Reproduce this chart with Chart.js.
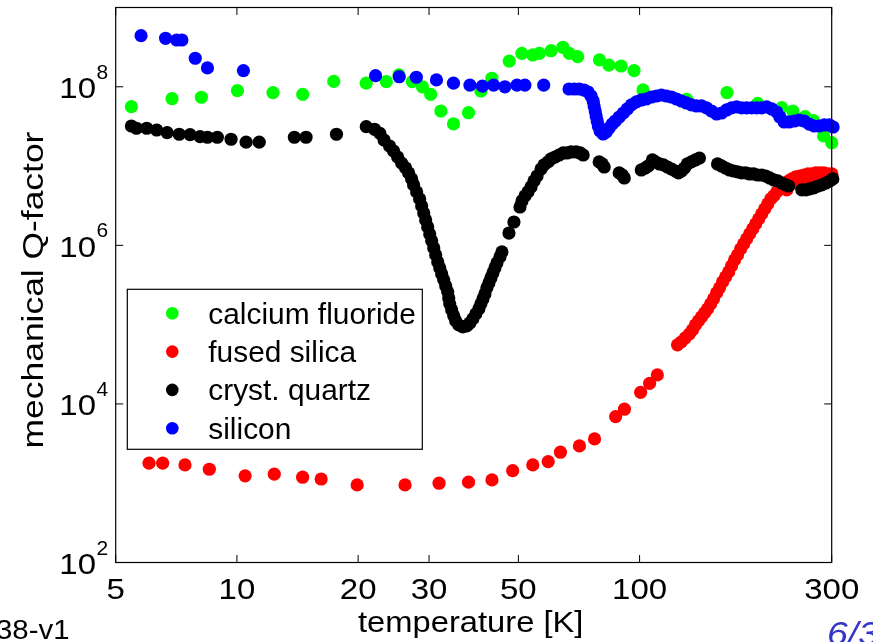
<!DOCTYPE html>
<html>
<head>
<meta charset="utf-8">
<title>mechanical Q-factor</title>
<script src="https://cdn.jsdelivr.net/npm/chart.js@4.4.1/dist/chart.umd.min.js"></script>
<style>
    html, body { margin: 0; padding: 0; background: #fff; }
    #wrap { width: 873px; height: 642px; position: relative; }
</style>
</head>
<body>
<div id="wrap"><canvas id="qChart" width="873" height="642"></canvas></div>
<script>
// tick values
const xTicks = [5, 10, 20, 30, 50, 100, 300];
const yTicks = [1e2, 1e4, 1e6, 1e8];

const seriesNames = ['calcium fluoride', 'fused silica', 'cryst. quartz', 'silicon'];
const seriesColors = ['#00ff00', '#ff0000', '#000000', '#0000ff'];

// calcium fluoride
const caf2T = [5.47, 6.90, 8.16, 10.03, 12.29, 14.57, 17.40, 20.95, 23.5, 25.25, 27.27, 28.88, 30.29, 32.1, 34.5, 37.6,
    40.35, 42.97, 47.46, 51.0, 54.3, 56.4, 60.3, 64.5, 66.9, 70.2, 79.5, 83.9, 90.0, 96.9, 102, 130.9, 164.8, 196.5,
    225.4, 240.2, 257.7, 270.4, 286.3, 300];
const caf2Q = [5.61e7, 7.08e7, 7.38e7, 8.93e7, 8.43e7, 8.04e7, 1.17e8, 1.11e8, 1.16e8, 1.41e8, 1.16e8, 1.0e8, 8.04e7, 4.95e7, 3.4e7, 4.71e7,
    8.85e7, 1.28e8, 2.11e8, 2.64e8, 2.52e8, 2.64e8, 2.85e8, 3.15e8, 2.64e8, 2.4e8, 2.18e8, 1.88e8, 1.83e8, 1.6e8, 9.12e7, 6.95e7, 8.43e7, 6.19e7,
    5.45e7, 4.95e7, 4.2e7, 3.74e7, 2.4e7, 1.97e7];

// fused silica
const silicaT = [6.05, 6.54, 7.43, 8.54, 10.48, 12.38, 14.56, 16.19, 19.89, 26.15, 31.77, 37.6, 43.0, 48.4, 54.3, 59.3,
    63.6, 70.9, 77.3, 87.2, 91.7, 100.6, 105.9, 110.7, 124.2, 127, 129.9, 133.0, 135.3, 137.6, 140.0, 142.5, 145.0,
    147.5, 150.1, 152.6, 155.3, 158.0, 160.7, 163.5, 166.4, 169.2, 172.1, 175.1, 178.2, 181.3, 184.4, 187.6, 190.9,
    194.2, 197.6, 201, 204.5, 208.0, 211.7, 215.4, 219.1, 222.9, 226.7, 230.6, 234.6, 238.8, 244.3, 250.0, 255.8,
    261.8, 267.8, 274.0, 280.4, 286.9, 293.5, 300.3, 232, 245.8, 260.3, 275.6, 291.9];
const silicaQ = [1.79e3, 1.79e3, 1.70e3, 1.50e3, 1.24e3, 1.30e3, 1.19e3, 1.13e3, 952, 952, 1000, 1030, 1100, 1441, 1701, 1873,
    2460, 2953, 3620, 6917, 8575, 1.40e4, 1.82e4, 2.32e4, 5.56e4, 6.07e4, 6.81e4, 7.65e4, 8.59e4, 9.93e4, 1.115e5, 1.253e5, 1.407e5,
    1.579e5, 1.825e5, 2.11e5, 2.51e5, 2.91e5, 3.46e5, 4.0e5, 4.62e5, 5.5e5, 6.55e5, 7.58e5, 9.02e5, 1.043e6, 1.205e6, 1.393e6, 1.611e6,
    1.863e6, 2.154e6, 2.489e6, 2.878e6, 3.327e6, 3.85e6, 4.2e6, 4.72e6, 5.15e6, 5.61e6, 6.12e6, 6.49e6, 6.88e6, 7.29e6, 7.5e6, 7.72e6,
    7.95e6, 7.95e6, 8.19e6, 8.19e6, 8.19e6, 7.95e6, 7.95e6, 5.0e6, 6.12e6, 6.68e6, 7.08e6, 7.29e6];

// crystalline quartz
const quartzT = [5.47, 5.63, 5.97, 6.32, 6.71, 7.19, 7.65, 8.10, 8.45, 8.94, 9.67, 10.54, 11.36, 13.89, 14.85, 17.67,
    20.95, 21.97, 22.65, 23.2, 23.94, 24.5, 25.07, 25.65, 26.24, 26.7, 27.16, 27.47, 27.95, 28.43, 28.76, 29.1, 29.43,
    29.77, 30.12, 30.46, 30.82, 31.17, 31.53, 31.9, 32.25, 32.63, 33.0, 33.38, 33.58, 33.77, 34.16, 34.55, 34.95, 35.56,
    36.38, 37.23, 37.88, 38.53, 39.2, 39.88, 40.35, 40.82, 41.29, 41.76, 42.25, 42.73, 43.22, 43.72, 44.23, 45.0, 45.51,
    47.38, 48.75, 50.46, 51.04, 51.93, 52.83, 53.75, 54.68, 55.63, 56.92, 57.9, 59.25, 60.26, 61.66, 63.09, 64.59, 66.08,
    67.6, 69.57, 71.19, 72.43, 79.36, 80.76, 81.69, 89.0, 90.57, 91.61, 101, 103.3, 105.1, 107.6, 109.5, 112.0, 114.6,
    117.3, 120, 122.8, 124.9, 127, 129.2, 131.4, 134.5, 137.6, 140.8, 156.2, 159.8, 163.5, 167.3, 171.2, 175.1, 179.2,
    183.4, 187.6, 192.0, 196.4, 201, 205.7, 210.4, 215.4, 220.4, 225.4, 230.6, 234.6, 252.9, 258.8, 264.8, 270.9, 277.2,
    283.6, 290.2, 296.9, 302, 307];
const quartzQ = [3.20e7, 3.0e7, 3.0e7, 2.85e7, 2.64e7, 2.52e7, 2.49e7, 2.35e7, 2.31e7, 2.31e7, 2.18e7, 2.0e7, 2.0e7, 2.31e7, 2.31e7, 2.52e7,
    3.14e7, 2.91e7, 2.59e7, 2.13e7, 1.79e7, 1.55e7, 1.30e7, 1.09e7, 9.47e6, 8.19e6, 6.88e6, 5.78e6, 4.72e6, 3.85e6, 3.14e6, 2.56e6, 2.09e6,
    1.71e6, 1.39e6, 1.14e6, 9.28e5, 7.58e5, 6.18e5, 5.19e5, 4.36e5, 3.67e5, 3.08e5, 2.59e5, 2.17e5, 1.83e5, 1.535e5, 1.29e5, 1.115e5, 9.93e4,
    9.37e4, 9.64e4, 1.05e5, 1.18e5, 1.367e5, 1.58e5, 1.83e5, 2.11e5, 2.44e5, 2.91e5, 3.36e5, 3.88e5, 4.49e5, 5.19e5, 6.0e5, 7.15e5, 8.27e5,
    1.43e6, 1.97e6, 3.05e6, 3.63e6, 4.2e6, 4.72e6, 5.45e6, 6.49e6, 7.5e6, 9.19e6, 1.033e7, 1.127e7, 1.229e7, 1.302e7, 1.38e7, 1.463e7, 1.463e7,
    1.506e7, 1.506e7, 1.463e7, 1.38e7, 1.127e7, 1.063e7, 9.74e6, 8.19e6, 7.72e6, 7.08e6, 8.93e6, 9.46e6, 1.003e7, 1.194e7, 1.127e7, 1.063e7, 1.033e7,
    9.74e6, 9.19e6, 8.67e6, 8.19e6, 8.67e6, 9.46e6, 1.063e7, 1.127e7, 1.194e7, 1.265e7, 1.063e7, 1.003e7, 9.46e6, 8.93e6, 8.67e6, 8.43e6, 8.19e6,
    8.19e6, 7.95e6, 7.95e6, 7.72e6, 7.72e6, 7.5e6, 7.08e6, 6.68e6, 6.49e6, 6.12e6, 5.78e6, 5.61e6, 5.0e6, 5.0e6, 5.15e6, 5.3e6, 5.61e6,
    5.78e6, 6.12e6, 6.49e6, 6.88e6, 7.29e6];

// silicon
const siliconT = [5.78, 6.65, 7.09, 7.30, 7.88, 8.45, 10.38, 22.1, 25.3, 27.9, 31.3, 34.5, 37.9, 40.7, 43.4, 46.3, 49.6,
    51.9, 57.8, 66.8, 68.8, 70.8, 72.8, 74.5, 75.8, 76.7, 77.1, 77.6, 78.0, 78.5, 79.0, 79.8, 81.2, 82.6, 84.0, 85.5,
    87.0, 89.0, 91.1, 93.2, 95.4, 98.2, 101, 103.9, 107, 110.1, 113.3, 116.6, 120, 123.5, 127, 130.7, 134.5, 138.4,
    142.5, 146.6, 150.9, 155.3, 159.8, 164.5, 169.2, 174.1, 179.2, 184.4, 189.8, 195.3, 201, 206.9, 212.9, 219.1,
    223.1, 228.6, 235.2, 242.1, 249.1, 256.3, 263.8, 271.5, 279.4, 287.5, 295.9, 302.4, 308];
const siliconQ = [4.41e8, 4.09e8, 3.89e8, 3.89e8, 2.29e8, 1.73e8, 1.60e8, 1.38e8, 1.34e8, 1.32e8, 1.22e8, 1.11e8, 1.05e8, 1.02e8, 1.05e8, 1.0e8, 1.05e8,
    1.05e8, 1.05e8, 9.38e7, 9.38e7, 9.38e7, 9.11e7, 8.6e7, 7.65e7, 6.62e7, 5.73e7, 4.95e7, 4.28e7, 3.70e7, 3.20e7, 2.77e7, 2.54e7, 2.69e7, 3.02e7, 3.39e7,
    3.70e7, 4.16e7, 4.67e7, 5.25e7, 5.90e7, 6.44e7, 6.82e7, 7.01e7, 7.43e7, 7.65e7, 7.88e7, 7.65e7, 7.43e7, 7.01e7, 6.62e7, 6.25e7, 5.90e7, 5.73e7,
    5.73e7, 5.41e7, 4.95e7, 4.54e7, 4.67e7, 5.10e7, 5.41e7, 5.57e7, 5.41e7, 5.41e7, 5.41e7, 5.41e7, 5.41e7, 5.57e7, 5.25e7, 4.81e7,
    4.16e7, 3.60e7, 3.60e7, 3.70e7, 3.81e7, 3.70e7, 3.39e7, 3.20e7, 3.20e7, 3.30e7, 3.30e7, 3.11e7, 2.77e7];

const FONT = '"Liberation Sans", Arial, Helvetica, sans-serif';

function toPoints(xs, ys) {
    return xs.map((x, i) => ({ x: x, y: ys[i] }));
}

// text with an optional horizontal stretch, the reference glyphs are a bit wide
function drawText(ctx, text, x, y, size, stretch, align, style) {
    ctx.save();
    ctx.font = (style ? style + ' ' : '') + size + 'px ' + FONT;
    ctx.textBaseline = 'alphabetic';
    ctx.textAlign = align || 'left';
    ctx.translate(x, y);
    ctx.scale(stretch || 1, 1);
    ctx.fillText(text, 0, 0);
    ctx.restore();
}

function textWidth(ctx, text, size, stretch) {
    ctx.save();
    ctx.font = size + 'px ' + FONT;
    const w = ctx.measureText(text).width * (stretch || 1);
    ctx.restore();
    return w;
}

// box, inward ticks, tick labels, axis titles and legend
const framePlugin = {
    id: 'matlabFrame',
    afterDraw(chart) {
        const ctx = chart.ctx;
        const area = chart.chartArea;
        const xs = chart.scales.x;
        const ys = chart.scales.y;
        const tick = 7.5;

        ctx.save();
        ctx.strokeStyle = '#000';
        ctx.lineWidth = 1.2;
        ctx.strokeRect(area.left, area.top, area.right - area.left, area.bottom - area.top);

        ctx.lineWidth = 1;
        ctx.beginPath();
        xTicks.forEach(v => {
            const px = xs.getPixelForValue(v);
            ctx.moveTo(px, area.bottom); ctx.lineTo(px, area.bottom - tick);
            ctx.moveTo(px, area.top); ctx.lineTo(px, area.top + tick);
        });
        yTicks.forEach(v => {
            const py = ys.getPixelForValue(v);
            ctx.moveTo(area.left, py); ctx.lineTo(area.left + tick, py);
            ctx.moveTo(area.right, py); ctx.lineTo(area.right - tick, py);
        });
        ctx.stroke();

        ctx.fillStyle = '#000';
        xTicks.forEach(v => {
            drawText(ctx, String(v), xs.getPixelForValue(v), area.bottom + 36, 30, 1.1, 'center');
        });
        yTicks.forEach(v => {
            const py = ys.getPixelForValue(v);
            const exp = String(Math.round(Math.log10(v)));
            const expRight = area.left - 7.5;
            const expW = textWidth(ctx, exp, 20, 1.05);
            drawText(ctx, exp, expRight, py - 8, 20, 1.05, 'right');
            drawText(ctx, '10', expRight - expW - 0.5, py + 11.5, 30, 1.1, 'right');
        });

        // axis titles
        drawText(ctx, 'temperature [K]', (area.left + area.right) / 2 - 3, 632, 30, 1.09, 'center');
        ctx.save();
        ctx.translate(43, 290);
        ctx.rotate(-Math.PI / 2);
        drawText(ctx, 'mechanical Q-factor', 0, 0, 30, 1.18, 'center');
        ctx.restore();

        // legend
        const lx = 127.3, ly = 289.3, lw = 295, lh = 160;
        ctx.fillStyle = '#fff';
        ctx.fillRect(lx, ly, lw, lh);
        ctx.strokeStyle = '#000';
        ctx.lineWidth = 1.2;
        ctx.strokeRect(lx, ly, lw, lh);
        chart.data.datasets.forEach((ds, i) => {
            const cy = 313.3 + i * 38.3;
            ctx.fillStyle = ds.backgroundColor;
            ctx.beginPath();
            ctx.arc(172.3, cy, 6.3, 0, Math.PI * 2);
            ctx.fill();
            ctx.fillStyle = '#000';
            drawText(ctx, ds.label, 208.3, cy + 10.5, 29, 1.03, 'left');
        });

        // slide leftovers at the bottom corners
        ctx.fillStyle = '#000';
        drawText(ctx, '38-v1', -4, 639, 28, 1.05, 'left');
        ctx.fillStyle = '#3535c8';
        drawText(ctx, '6/38', 827, 645, 34, 1.1, 'left', 'italic');
        ctx.restore();
    }
};

const allT = [caf2T, silicaT, quartzT, siliconT];
const allQ = [caf2Q, silicaQ, quartzQ, siliconQ];

// later series lie on top, like the original plot order
const datasets = seriesNames.map((name, i) => ({
    label: name,
    data: toPoints(allT[i], allQ[i]),
    backgroundColor: seriesColors[i],
    borderWidth: 0,
    pointRadius: 6.6,
    pointHoverRadius: 6.6,
    clip: false,
    order: 4 - i
}));

const ctx = document.getElementById('qChart').getContext('2d');
new Chart(ctx, {
    type: 'scatter',
    data: { datasets: datasets },
    options: {
        responsive: false,
        animation: false,
        events: [],
        layout: { padding: { top: 7.5, right: 41.3, left: 0, bottom: 0 } },
        plugins: {
            legend: { display: false },
            tooltip: { enabled: false }
        },
        scales: {
            x: {
                type: 'logarithmic',
                min: 5,
                max: 300,
                ticks: { display: false },
                grid: { display: false },
                border: { display: false },
                afterBuildTicks: s => { s.ticks = xTicks.map(v => ({ value: v })); },
                afterFit: s => { s.height = 79.5; }
            },
            y: {
                type: 'logarithmic',
                min: 1e2,
                max: 1e9,
                ticks: { display: false },
                grid: { display: false },
                border: { display: false },
                afterBuildTicks: s => { s.ticks = yTicks.map(v => ({ value: v })); },
                afterFit: s => { s.width = 115.7; }
            }
        }
    },
    plugins: [framePlugin]
});
</script>
</body>
</html>
